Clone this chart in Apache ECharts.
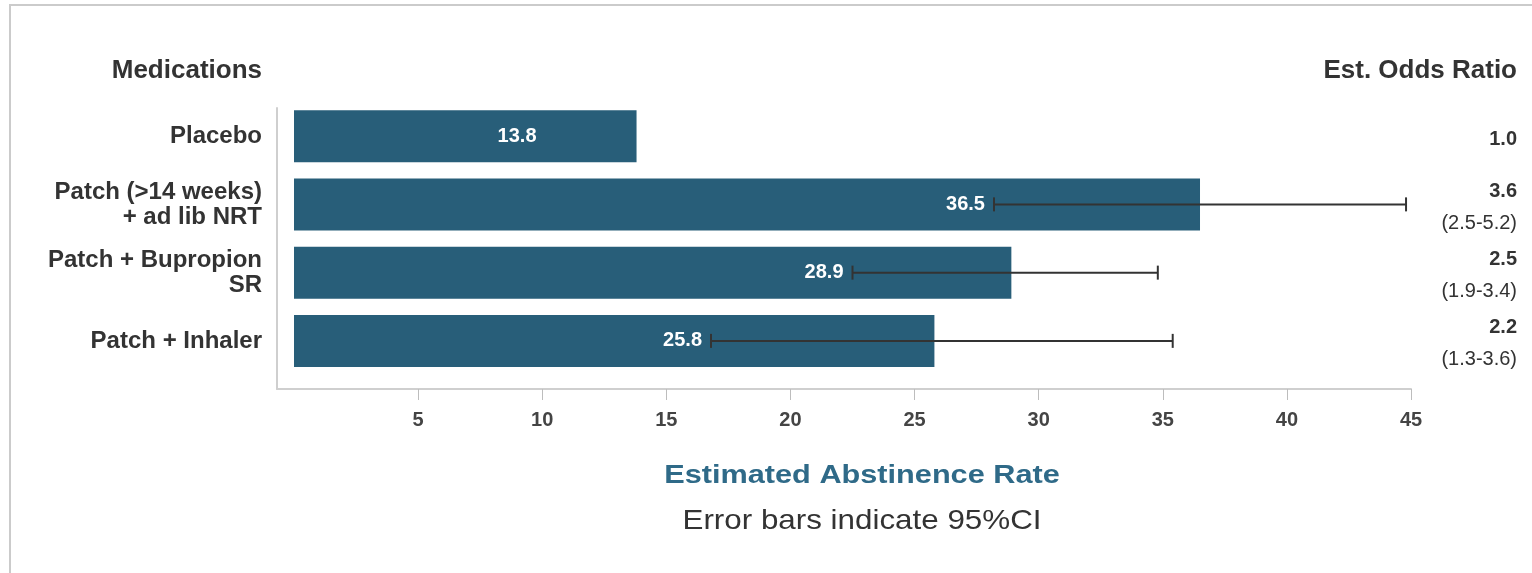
<!DOCTYPE html>
<html>
<head>
<meta charset="utf-8">
<title>Estimated Abstinence Rate</title>
<script src="https://cdn.jsdelivr.net/npm/echarts@6/dist/echarts.min.js"></script>
<style>
  html, body { margin: 0; padding: 0; background: #fff; }
  #frame { position: absolute; left: 9px; top: 4px; right: 0; bottom: 0;
           border-left: 2px solid #cbcbcb; border-top: 2px solid #cbcbcb; }
  #chart { position: absolute; left: 0; top: 0; width: 1532px; height: 573px; }
</style>
</head>
<body>
<div id="frame"></div>
<div id="chart"></div>
<script>
// Medications compared, top to bottom
const medications = [
  'Placebo',
  'Patch (>14 weeks)\n+ ad lib NRT',
  'Patch + Bupropion\nSR',
  'Patch + Inhaler'
];
// Estimated abstinence rate (%)
const abstinenceRate = [13.8, 36.5, 28.9, 25.8];
// 95% confidence interval bounds of the rate (none shown for placebo)
const ciLow = [null, 28.2, 22.5, 16.8];
const ciHigh = [null, 44.8, 34.8, 35.4];
// Estimated odds ratio and its interval
const oddsRatio = ['1.0', '3.6', '2.5', '2.2'];
const oddsRatioCI = ['', '(2.5-5.2)', '(1.9-3.4)', '(1.3-3.6)'];
// Rate axis tick labels
const rateTicks = [5, 10, 15, 20, 25, 30, 35, 40, 45];

const FONT = '"Liberation Sans", Arial, Helvetica, sans-serif';
const BAR_COLOR = '#285e79';
const TEXT = '#333333';

const chart = echarts.init(document.getElementById('chart'), null, { renderer: 'canvas' });

const errorData = [];
abstinenceRate.forEach((v, i) => {
  if (ciLow[i] != null) errorData.push([ciLow[i], ciHigh[i], i, v]);
});

chart.setOption({
  animation: false,
  backgroundColor: 'transparent',
  grid: [
    { left: 294, top: 102, width: 1117, height: 273 },
    { left: 277, top: 108, width: 1134, height: 281 }
  ],
  xAxis: [
    {
      gridIndex: 0, type: 'value', min: 0, max: 45, interval: 5, offset: 14,
      axisLine: { show: false },
      axisTick: { show: true, length: 11, customValues: rateTicks,
                  lineStyle: { color: '#bdbdbd', width: 1 } },
      axisLabel: { customValues: rateTicks, margin: 21, color: '#444',
                   fontWeight: 'bold', fontSize: 20, fontFamily: FONT },
      splitLine: { show: false }
    },
    {
      gridIndex: 1, type: 'value', min: 0, max: 1,
      axisLine: { show: true, lineStyle: { color: '#cfcfcf', width: 2 } },
      axisTick: { show: false }, axisLabel: { show: false }, splitLine: { show: false }
    }
  ],
  yAxis: [
    {
      gridIndex: 0, type: 'category', inverse: true, data: medications,
      axisLine: { show: false }, axisTick: { show: false },
      axisLabel: { interval: 0, margin: 32, color: TEXT, fontWeight: 'bold',
                   fontSize: 24, lineHeight: 25, fontFamily: FONT,
                   padding: [4, 0, 0, 0] }
    },
    {
      gridIndex: 0, type: 'category', inverse: true, position: 'right', data: medications,
      axisLine: { show: false }, axisTick: { show: false },
      axisLabel: {
        interval: 0, margin: 106, align: 'right', padding: [6, 0, 0, 0],
        formatter: (v, i) => oddsRatioCI[i]
          ? '{or|' + oddsRatio[i] + '}\n{ci|' + oddsRatioCI[i] + '}'
          : '{or|' + oddsRatio[i] + '}',
        rich: {
          or: { fontWeight: 'bold', fontSize: 20, lineHeight: 32, color: TEXT,
                fontFamily: FONT, align: 'right' },
          ci: { fontSize: 20, lineHeight: 32, color: TEXT, fontFamily: FONT, align: 'right' }
        }
      }
    },
    {
      gridIndex: 1, type: 'value', min: 0, max: 1,
      axisLine: { show: true, lineStyle: { color: '#cfcfcf', width: 2 } },
      axisTick: { show: false }, axisLabel: { show: false }, splitLine: { show: false }
    }
  ],
  series: [
    {
      type: 'bar', xAxisIndex: 0, yAxisIndex: 0, barWidth: 52, z: 2,
      itemStyle: { color: BAR_COLOR },
      label: {
        position: 'insideRight', distance: 100, formatter: '{c}', color: '#fff',
        fontWeight: 'bold', fontSize: 20, fontFamily: FONT
      },
      data: abstinenceRate.map((v, i) => ({ value: v, label: { show: ciLow[i] == null } }))
    },
    {
      type: 'custom', xAxisIndex: 0, yAxisIndex: 0, z: 5,
      encode: { x: [0, 1], y: 2 },
      data: errorData,
      renderItem: (params, api) => {
        const row = api.value(2);
        const lo = api.coord([api.value(0), row]);
        const hi = api.coord([api.value(1), row]);
        const cap = 7;
        const stroke = { stroke: '#333', lineWidth: 2 };
        return {
          type: 'group',
          children: [
            { type: 'line', shape: { x1: lo[0], y1: lo[1], x2: hi[0], y2: hi[1] }, style: stroke },
            { type: 'line', shape: { x1: lo[0], y1: lo[1] - cap, x2: lo[0], y2: lo[1] + cap }, style: stroke },
            { type: 'line', shape: { x1: hi[0], y1: hi[1] - cap, x2: hi[0], y2: hi[1] + cap }, style: stroke },
            { type: 'text', x: lo[0] - 9, y: lo[1],
              style: { text: String(api.value(3)), align: 'right', verticalAlign: 'middle',
                       fill: '#fff', font: 'bold 20px ' + FONT } }
          ]
        };
      }
    }
  ],
  graphic: [
    { type: 'text', x: 262, y: 71,
      style: { text: 'Medications', align: 'right', verticalAlign: 'middle',
               fill: TEXT, font: 'bold 26px ' + FONT } },
    { type: 'text', x: 1517, y: 71,
      style: { text: 'Est. Odds Ratio', align: 'right', verticalAlign: 'middle',
               fill: TEXT, font: 'bold 26px ' + FONT } },
    { type: 'text', x: 862, y: 476, scaleX: 1.18,
      style: { text: 'Estimated Abstinence Rate', align: 'center', verticalAlign: 'middle',
               fill: '#2f6a88', font: 'bold 26px ' + FONT } },
    { type: 'text', x: 862, y: 521, scaleX: 1.12,
      style: { text: 'Error bars indicate 95%CI', align: 'center', verticalAlign: 'middle',
               fill: TEXT, font: '28px ' + FONT } }
  ]
});
</script>
</body>
</html>
